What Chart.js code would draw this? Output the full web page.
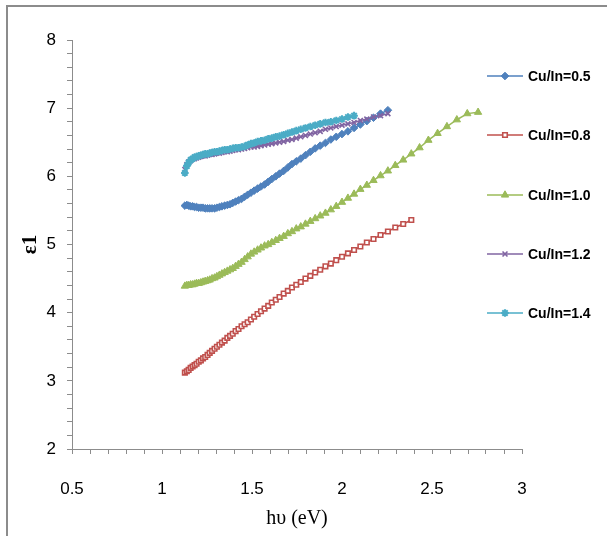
<!DOCTYPE html>
<html>
<head>
<meta charset="utf-8">
<script src="https://cdn.jsdelivr.net/npm/chart.js@4.4.0/dist/chart.umd.min.js"></script>
<style>
	body { margin: 0; background: #fff; }
	canvas { display: block; }
</style>
</head>
<body>
<canvas id="epsChart" width="607" height="536"></canvas>
<script>
// photon energy (eV), shared by all the samples
var hv = [1.127, 1.138, 1.148, 1.159, 1.170, 1.181, 1.192, 1.204, 1.216, 1.228,
	1.240, 1.253, 1.265, 1.278, 1.292, 1.305, 1.319, 1.333, 1.348, 1.363,
	1.378, 1.393, 1.409, 1.425, 1.442, 1.459, 1.476, 1.494, 1.512, 1.531,
	1.550, 1.570, 1.590, 1.610, 1.632, 1.653, 1.676, 1.699, 1.722, 1.746,
	1.771, 1.797, 1.824, 1.851, 1.879, 1.908, 1.938, 1.968, 2.000, 2.033,
	2.067, 2.102, 2.138, 2.175, 2.214, 2.255, 2.296, 2.340, 2.385, 2.431,
	2.480, 2.531, 2.583, 2.638, 2.696, 2.756];

var seriesNames = ["Cu/In=0.5", "Cu/In=0.8", "Cu/In=1.0", "Cu/In=1.2", "Cu/In=1.4"];

var eps05 = [5.57, 5.58, 5.57, 5.56, 5.56, 5.55, 5.55, 5.54, 5.54, 5.54,
	5.53, 5.53, 5.53, 5.53, 5.53, 5.54, 5.55, 5.56, 5.57, 5.58,
	5.59, 5.61, 5.63, 5.65, 5.67, 5.70, 5.73, 5.76, 5.79, 5.82,
	5.85, 5.88, 5.92, 5.96, 6.00, 6.04, 6.08, 6.13, 6.18, 6.22,
	6.26, 6.31, 6.36, 6.41, 6.45, 6.49, 6.54, 6.58, 6.62, 6.66,
	6.71, 6.76, 6.81, 6.86, 6.92, 6.97];

var eps08 = [3.12, 3.14, 3.16, 3.19, 3.21, 3.23, 3.25, 3.28, 3.30, 3.33,
	3.35, 3.38, 3.41, 3.44, 3.47, 3.50, 3.53, 3.56, 3.59, 3.63,
	3.66, 3.69, 3.73, 3.76, 3.80, 3.83, 3.86, 3.90, 3.94, 3.98,
	4.02, 4.06, 4.10, 4.15, 4.19, 4.23, 4.28, 4.32, 4.37, 4.41,
	4.45, 4.50, 4.54, 4.59, 4.63, 4.68, 4.72, 4.77, 4.82, 4.87,
	4.92, 4.97, 5.03, 5.08, 5.14, 5.19, 5.25, 5.30, 5.36];

var eps10 = [4.39, 4.40, 4.40, 4.41, 4.41, 4.42, 4.43, 4.43, 4.44, 4.45,
	4.46, 4.47, 4.48, 4.50, 4.51, 4.53, 4.55, 4.57, 4.59, 4.61,
	4.63, 4.65, 4.68, 4.71, 4.74, 4.78, 4.82, 4.86, 4.89, 4.92,
	4.95, 4.98, 5.00, 5.03, 5.06, 5.09, 5.12, 5.16, 5.19, 5.23,
	5.26, 5.30, 5.34, 5.38, 5.42, 5.46, 5.51, 5.56, 5.62, 5.68,
	5.74, 5.81, 5.87, 5.94, 6.01, 6.08, 6.16, 6.24, 6.33, 6.42,
	6.53, 6.63, 6.73, 6.83, 6.92, 6.94];

var eps12 = [6.10, 6.17, 6.21, 6.23, 6.25, 6.26, 6.27, 6.28, 6.29, 6.30,
	6.30, 6.31, 6.32, 6.32, 6.33, 6.34, 6.34, 6.35, 6.36, 6.36,
	6.37, 6.38, 6.39, 6.39, 6.40, 6.41, 6.42, 6.43, 6.43, 6.44,
	6.45, 6.46, 6.47, 6.48, 6.49, 6.50, 6.51, 6.53, 6.54, 6.56,
	6.58, 6.60, 6.62, 6.64, 6.66, 6.69, 6.71, 6.73, 6.75, 6.77,
	6.79, 6.82, 6.84, 6.87, 6.89, 6.92];

var eps14 = [6.05, 6.15, 6.20, 6.24, 6.26, 6.28, 6.29, 6.30, 6.31, 6.32,
	6.33, 6.33, 6.34, 6.35, 6.36, 6.36, 6.37, 6.38, 6.39, 6.39,
	6.40, 6.41, 6.42, 6.42, 6.43, 6.44, 6.46, 6.48, 6.49, 6.51,
	6.52, 6.53, 6.55, 6.56, 6.58, 6.59, 6.61, 6.63, 6.65, 6.67,
	6.69, 6.71, 6.73, 6.75, 6.77, 6.79, 6.80, 6.82, 6.84, 6.87,
	6.89];

var xMin = 0.5, xMax = 3;
var yMin = 2, yMax = 8;

function toPoints(ys) {
	var pts = [];
	for (var i = 0; i < ys.length; i++) {
		pts.push({ x: hv[i], y: ys[i] });
	}
	return pts;
}

var styles = [
	{ color: "#4F81BD", fill: "#4F81BD", point: "rectRot", r: 3.8, bw: 1 },
	{ color: "#C0504D", fill: "#ffffff", point: "rect", r: 3.2, bw: 1.6 },
	{ color: "#9BBB59", fill: "#9BBB59", point: "triangle", r: 4.2, bw: 1 },
	{ color: "#8064A2", fill: "#8064A2", point: "crossRot", r: 3.5, bw: 1.6 },
	{ color: "#4BACC6", fill: "#4BACC6", point: "star", r: 3.8, bw: 2 }
];
var allSeries = [eps05, eps08, eps10, eps12, eps14];

var datasets = [];
for (var k = 0; k < allSeries.length; k++) {
	var s = styles[k];
	datasets.push({
		label: seriesNames[k],
		data: toPoints(allSeries[k]),
		showLine: true,
		borderColor: s.color,
		backgroundColor: s.fill,
		borderWidth: 1.5,
		pointStyle: s.point,
		pointRadius: s.r,
		pointBorderWidth: s.bw,
		pointBorderColor: s.color,
		pointBackgroundColor: s.fill,
		order: allSeries.length - k
	});
}

// legend on the right: line with marker, then the label
var legendPlugin = {
	id: "sideLegend",
	afterDraw: function(chart) {
		var ctx = chart.ctx;
		var rows = [76, 135, 195, 254, 313];
		ctx.save();
		for (var i = 0; i < seriesNames.length; i++) {
			var s = styles[i];
			var y = rows[i];
			ctx.strokeStyle = s.color;
			ctx.lineWidth = 1.5;
			ctx.beginPath();
			ctx.moveTo(487, y);
			ctx.lineTo(523, y);
			ctx.stroke();
			ctx.fillStyle = s.fill;
			ctx.lineWidth = s.bw;
			Chart.helpers.drawPoint(ctx, { pointStyle: s.point, radius: s.r, rotation: 0, borderWidth: s.bw }, 505, y);
			ctx.fillStyle = "#000";
			ctx.font = "bold 14px 'Liberation Sans', Arial, sans-serif";
			ctx.textAlign = "left";
			ctx.textBaseline = "middle";
			ctx.fillText(seriesNames[i], 528, y + 1);
		}
		ctx.restore();
	}
};

// grey frame round the picture
var framePlugin = {
	id: "frame",
	beforeDraw: function(chart) {
		var ctx = chart.ctx;
		ctx.save();
		ctx.fillStyle = "#fff";
		ctx.fillRect(0, 0, chart.width, chart.height);
		ctx.strokeStyle = "#8c8c8c";
		ctx.lineWidth = 2;
		ctx.strokeRect(7, 6, 640, 560);
		ctx.restore();
	}
};

var ctx = document.getElementById("epsChart").getContext("2d");
var chart = new Chart(ctx, {
	type: "scatter",
	data: { datasets: datasets },
	options: {
		responsive: false,
		animation: false,
		devicePixelRatio: 1,
		layout: { padding: { top: 40, right: 85, bottom: 0, left: 0 } },
		plugins: {
			legend: { display: false },
			tooltip: { enabled: false }
		},
		scales: {
			x: {
				type: "linear",
				min: xMin,
				max: xMax,
				afterFit: function(scale) { scale.height = 87; },
				border: { color: "#8c8c8c", width: 1 },
				grid: { drawOnChartArea: false, drawTicks: true, tickLength: 5, color: "#8c8c8c" },
				ticks: {
					stepSize: 0.1,
					autoSkip: false,
					maxRotation: 0,
					padding: 25,
					color: "#000",
					font: { family: "'Liberation Sans', Arial, sans-serif", size: 17 },
					callback: function(v) {
						if (Math.abs(v * 2 - Math.round(v * 2)) < 1e-6) {
							return String(Math.round(v * 2) / 2);
						}
						return "";
					}
				},
				title: {
					display: true,
					text: "hυ (eV)",
					color: "#000",
					font: { family: "'Liberation Serif', 'Times New Roman', serif", size: 20 },
					padding: { top: 0, bottom: 5 }
				}
			},
			y: {
				type: "linear",
				min: yMin,
				max: yMax,
				afterFit: function(scale) { scale.width = 72; },
				border: { color: "#8c8c8c", width: 1 },
				grid: { drawOnChartArea: false, drawTicks: true, tickLength: 5, color: "#8c8c8c" },
				ticks: {
					stepSize: 0.2,
					autoSkip: false,
					padding: 11,
					color: "#000",
					font: { family: "'Liberation Sans', Arial, sans-serif", size: 17 },
					callback: function(v) {
						if (Math.abs(v - Math.round(v)) < 1e-6) {
							return String(Math.round(v));
						}
						return "";
					}
				},
				title: {
					display: true,
					text: "ε1",
					color: "#000",
					font: { family: "'Liberation Serif', 'Times New Roman', serif", size: 21, weight: "bold" },
					padding: { top: 18, bottom: 0 }
				}
			}
		}
	},
	plugins: [framePlugin, legendPlugin]
});
</script>
</body>
</html>
